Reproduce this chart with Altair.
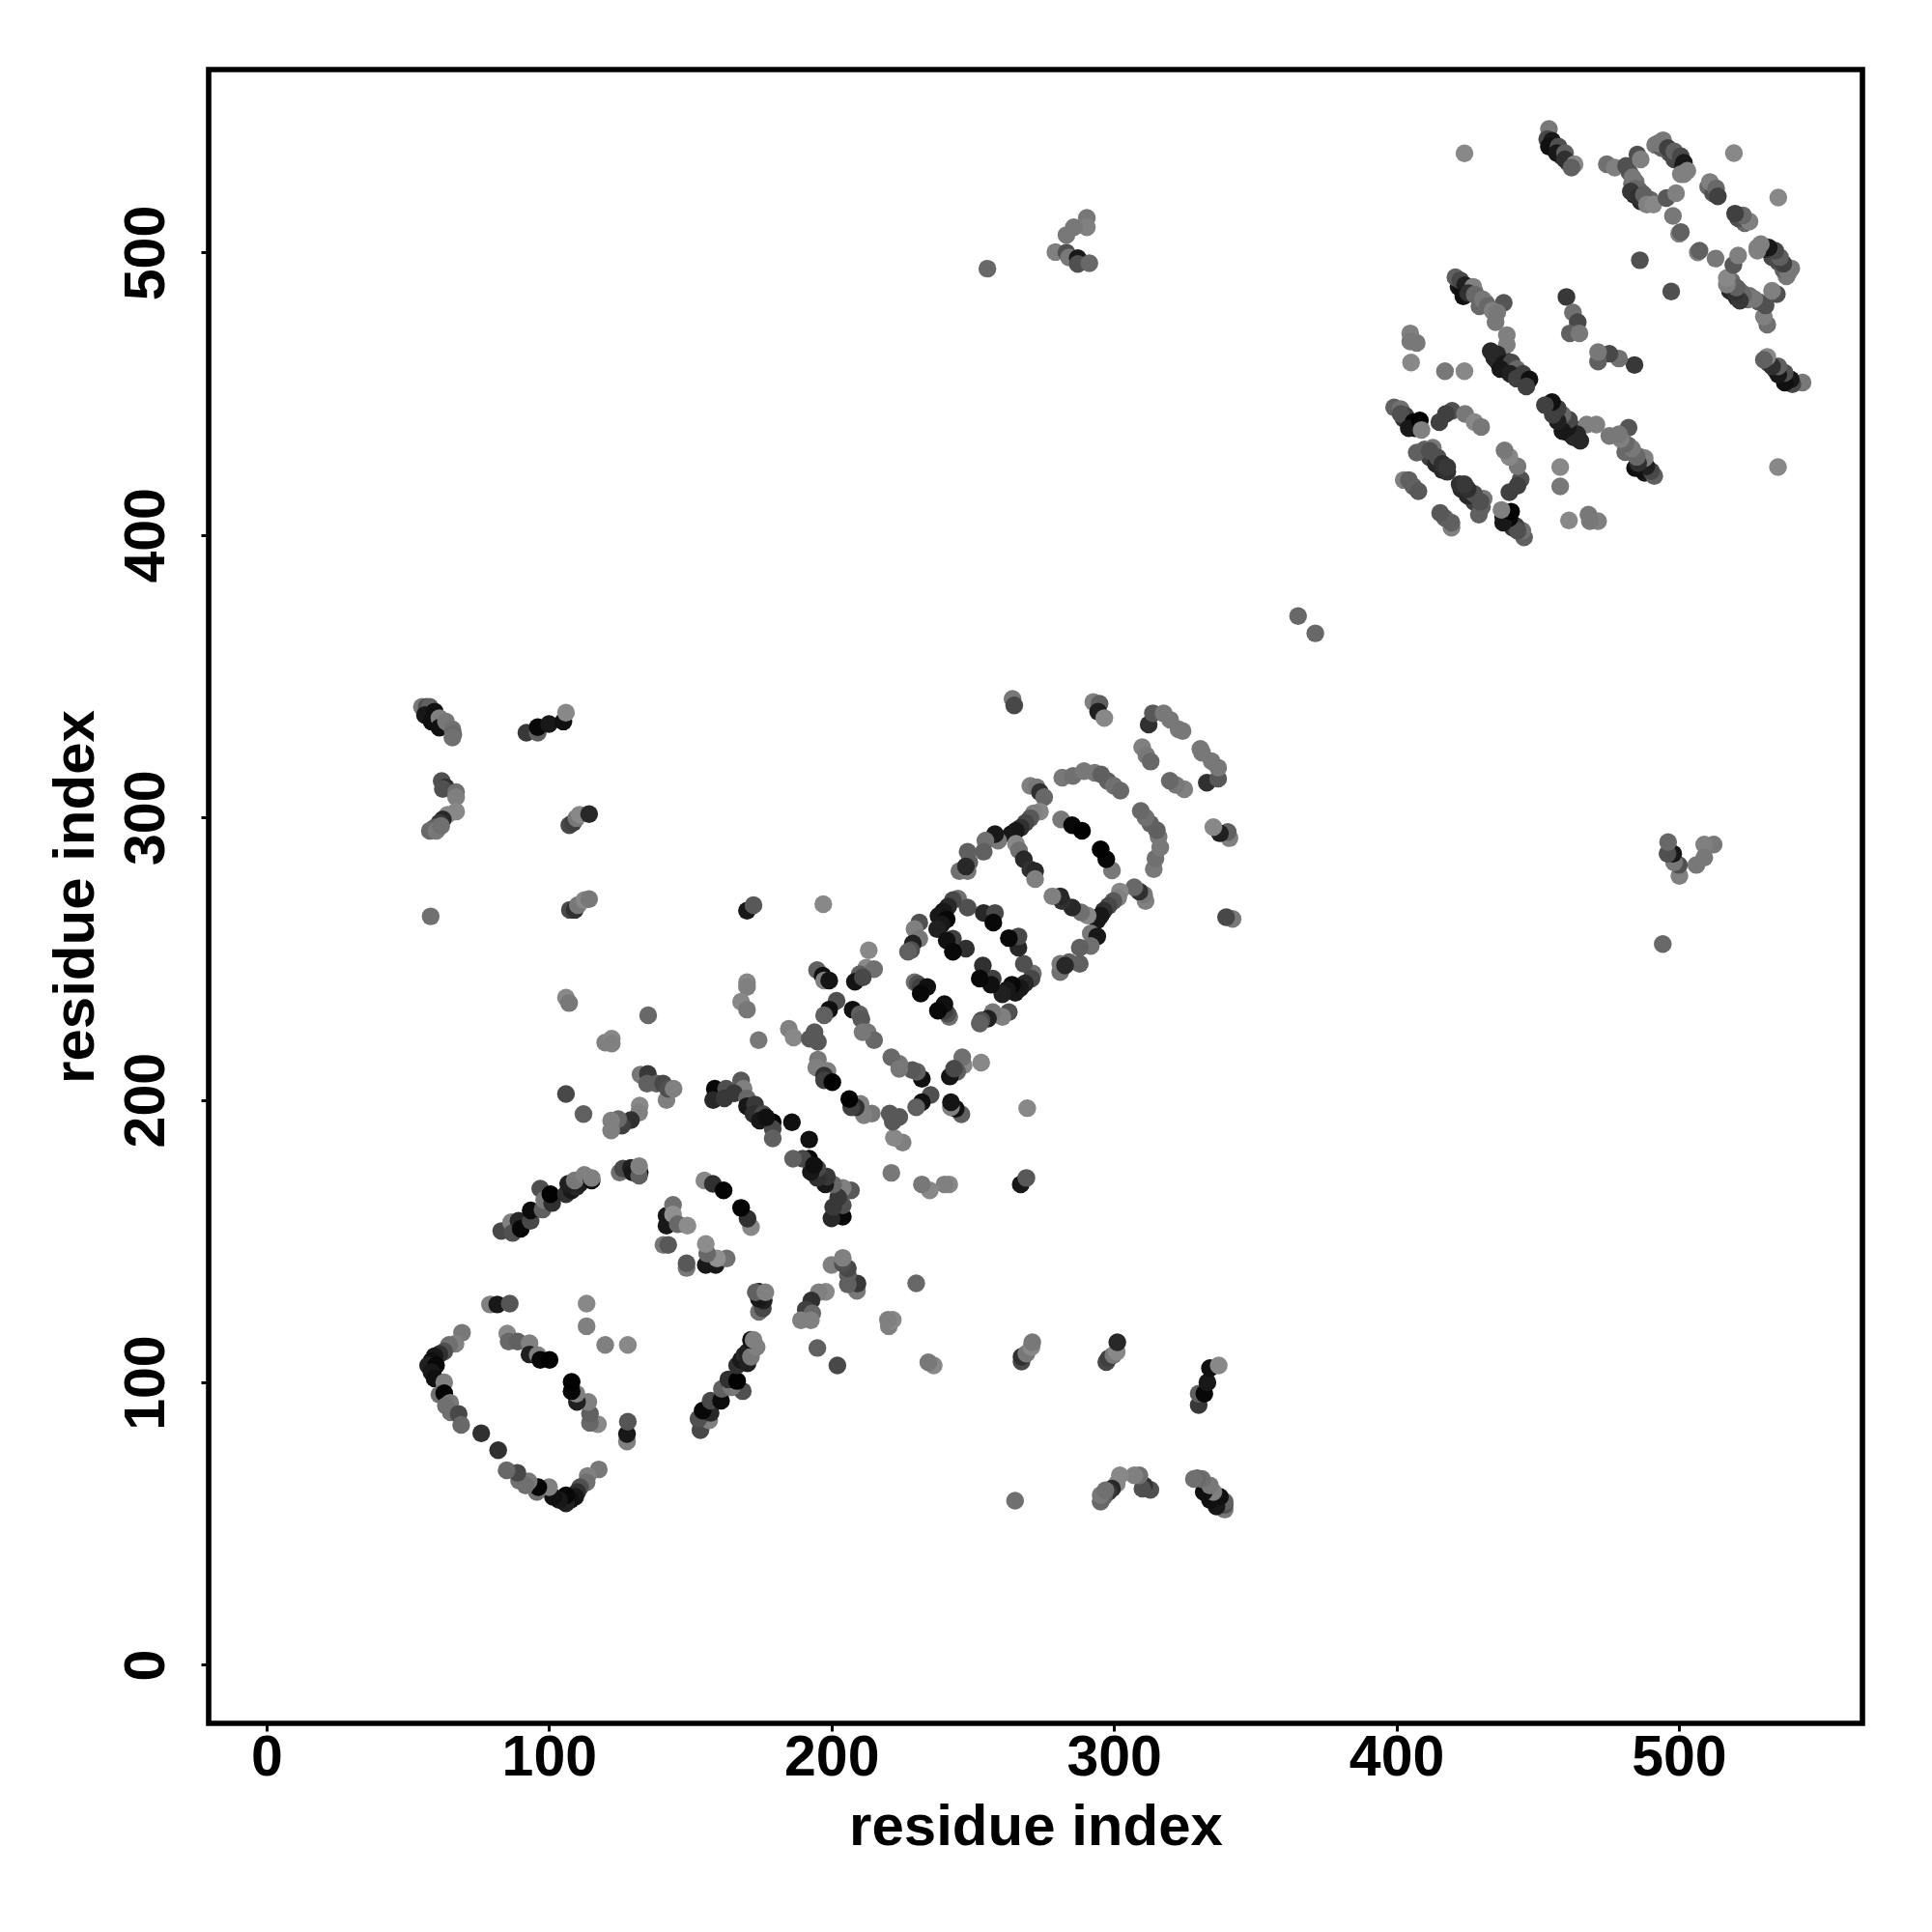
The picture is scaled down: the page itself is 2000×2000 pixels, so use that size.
import altair as alt
import pandas as pd

# contacts read from the half above the diagonal; the contact map is symmetric
x_half = [
 69.2,66.9,64.6,62.9,61.2,59.5,58.4,57.2,60,58.4,59.5,62.9,61.2,62.9,65,63.5,65.2,68,68.9,76,
 79.1,81.7,86.1,85.2,85.7,88.9,93.1,93.1,96,96.9,100.2,
 83.1,86.6,87.1,89.2,90,93.5,93.5,97.7,96.9,98.3,101.1,100.5,106,108,109.7,106.8,110.8,109.1,112.5,115.1,115.1,113.3,113.3,
 125,126.2,129,129.6,132.1,131.9,131.9,
 141.6,141.6,143.9,143.9,145.6,149,140.5,142.2,155,158,161.8,
 107.4,109.1,110.2,112.5,114.2,170.1,172.4,197.1,106,107.1,135.1,170.1,170.1,168,170.1,174.2,
 119.9,122.2,122.2,132.4,135,134.7,138.1,140.4,141.6,142.1,144.1,106,112.2,
 132.1,131.9,129,125.8,124.5,122,122,
 158.7,158.1,162.7,162.1,168,168.9,165.5,170.1,170.1,172.9,172.4,175.8,174.6,179.2,179.2,176.9,179.2,186,
 194.9,196.9,197.4,199.2,213.2,212.3,215.1,210,208.3,211.1,
 201.8,199.2,197.4,207.5,210,210.6,212.8,215.1,211,184.9,186.6,194,192.3,195.2,
 195.2,194.6,198.6,197.4,197.4,200.3,
 264.1,264.7,292.7,294.9,294.4,296.6,312.3,313.8,317.6,319.9,322.9,324.3,310,311.5,313,
 281.7,285.5,289.4,293.2,295.5,297.8,300,302.3,
 270.4,272.7,273.8,275.3,273.8,271.6,270.4,268.7,267,265.3,263.6,259,257.9,254.5,253.9,248.2,248.8,245.3,248.2,247.6,
 265.3,266.4,268.1,270.4,272.1,272.1,281.3,285.2,288.7,
 244.8,248.2,243,241.3,239.6,237.9,240.8,239,237.4,243,240.8,247.6,243,253.9,257.9,257.3,
 231.1,229.4,231.1,228.8,228.2,227.1,
 229.4,230.5,231.6,233.9,231.6,
 55,56.7,57.8,56.1,59.5,58.4,61.2,61.2,63.5,65.8,66.1,65.8,
 92,96,96,100,105.1,106,
 62,63.5,62.4,67.1,67.1,67.1,64.1,62.4,61.2,59.5,57.8,60.1,61.8,
 107.2,108.5,109.7,110.8,114.2,58.1,
 290.4,290.4,285.8,283.2,279.3,283.2,284.1,287.2,287.2,291.3,255.2,365.2,
 424.1,
 482.5,483.4,484.2,486.5,487,489.9,484.7,485.9,
 496.7,499.6,498.4,501.3,501.8,491.6,493.9,
 422,423.2,426,427.7,429.4,431.7,429.4,
 433.4,435.1,436.3,439.1,441.4,443.7,445.4,438,
 399.2,402.6,404.9,406.6,
 410,411.8,414,416.3,418,
 455.7,458.5,460.8,510.4,512.1,
 454,453.4,455.1,454,457.4,456.8,459.7,459.7,463.1,462,
 474.5,477.3,481.3,485.3,486.5,492.7,494.4,496.1,498.4,500.7,501.8,503,500.7,
 483.6,484.7,483,485.9,487.6,488.7,491,495.6,499,497.9,500.1,500.7,
 511,513.2,513.8,519.5,486.2,
 460.2,462.5,464.2,461.4,464.8,
 420.9,422.6,424.3,427.2,423.7,425.4,427.7,430.6,432.3,438,434,435.7,435.1,439.1,439.1,
 435.7,434.6,438,440.8,436.8,442.6,440.3,444.8,442.6,447.1,446,
 401.5,403.2,401.5,406,404.4,408.3,408.9,
 419.7,417.5,415.2,424.3,427.7,430,
 412.9,407.2,411.8,414.6,416.3,418,
 402.6,404.4,406,407.8,
 404.9,404.9,407.2,405.2,417.2,424.1,
]
y_half = [
 117.6,113.7,113.3,111,110,109.3,107.6,106,106,103.6,101.4,100,95.7,96.2,92.8,91.7,89.4,88.8,85,82,
 127.6,127.6,127.9,117.3,114.5,114.5,113.9,109.9,109.7,108,108,
 153.6,156.7,152.9,157.2,154.4,157.2,160.9,161.2,168.6,164.6,163.5,166.6,166.6,168,169.2,170.3,170.3,171.5,173.5,171.5,172.4,127.9,119.9,
 174.3,175.7,176,174.3,174.3,173.2,176.6,
 159,155.5,162.9,159.5,156,155.5,148.7,148.7,171.5,170.3,168,
 267.3,267.3,269,270.8,271.1,267,269,269.3,236.2,234.3,230,241.7,240,234.8,232,221.2,
 220.3,221.7,220,209,209.2,205.8,205.8,205.8,200,204,204,202.1,195,
 198,195.5,192.9,190.9,193.2,192.7,189.2,
 204,200,204,200.6,206.9,204,202.4,200.6,197.8,198.4,195,195,192.7,192.1,189.8,193.8,186.4,192.1,
 246,244,242.3,242.3,253,246.8,246.3,244.5,241.9,243.4,
 235.1,232,230,232,230.3,228.6,224,221.2,224,225.2,222.1,224,221.7,220.6,
 214.3,211.5,210.3,208.6,207,206.3,
 342,339.7,340.9,340.3,337.5,335.2,332.9,336.9,336.9,334.6,331.2,330.6,324.9,322,319.8,
 314.1,314.7,316.4,315.8,315.2,312.9,311.2,309.5,
 311.2,310.7,309,307.2,302.1,301.5,299.8,298.1,296.4,295.3,294.1,291.8,294.1,291.8,287.9,287.9,284.1,281,281,282.7,
 290.7,288.4,285.2,281.6,281,278.2,299.3,297.3,295.3,
 271.3,268.1,270.8,268.5,266.8,265.1,263.9,262.2,260.5,257.1,256.5,253.6,252.5,266.2,266.2,262.8,
 262.8,260.5,257.1,255.4,253.1,252.5,
 241.7,241.1,240,240,237.7,
 339.2,339.2,339.2,336.3,337.5,334,335.2,331.8,334,331.2,329.5,328.3,
 330,330,332,333.1,334,337.1,
 312.9,310.7,310.1,309,307.2,302.1,301,299.3,298.1,296.4,295.3,295.3,297,
 297.3,298.1,299.8,301,301.2,265,
 512.3,509,509,506.2,500.2,500,498.3,498,496,496.2,494.3,371.3,
 535.1,
 528.4,524.4,520.4,518.1,521,518.7,525,522.1,
 535.2,533.5,533,530.7,527.8,538.1,537,
 487.9,486.8,486.8,486.2,483.9,482.2,481,
 465.1,462.3,460.6,459.4,457.7,456,454.3,462.3,
 445.2,441.2,440,437.8,
 430.3,427.5,425.2,423,422.4,
 537,534.1,531.8,523.3,521,
 543.8,540.2,539.6,537.5,537.5,535.2,535.2,533,531.3,530.1,
 531.3,530.1,530.7,534.7,533,538.7,539.8,537,535.8,534.1,531.8,529,527.8,
 526.7,522.7,521.6,519.9,520.4,517,517,519.3,521,513,506.7,507.3,
 525,522.7,519.9,535.2,497.3,
 484.3,478.8,475.4,471.4,471.4,
 491.3,490.2,488.5,487.9,484.5,485.6,485.1,483.4,481.1,482.2,479.4,478.8,475.4,470.8,467.4,
 464,462.8,460.6,461.1,458.8,458.8,457.1,457.1,455.4,455.1,452.6,
 444.6,442.3,442.9,440,437.8,440.6,437.2,
 444,442.9,440,442.9,440,438.3,
 430.9,429.2,429.8,427.5,425.2,424.1,
 419.5,419.5,417.2,415.5,
 471.4,468.5,468,461.1,458,458,
]
gray_half = [
 0x78,0x80,0x70,0x50,0x30,0x18,0x10,0x20,0x08,0x18,0x10,0x80,0x70,0x05,0x78,0x70,0x70,0x48,0x68,0x30,
 0x80,0x18,0x55,0x88,0x68,0x60,0x80,0x20,0x80,0x08,0x02,
 0x48,0x80,0x50,0x28,0x08,0x48,0x0c,0x60,0x50,0x78,0x30,0x02,0x30,0x18,0x28,0x20,0x20,0x78,0x80,0x10,0x80,0x88,0x80,
 0x70,0x48,0x20,0x18,0x0c,0x60,0x80,
 0x18,0x18,0x70,0x90,0x68,0x8c,0x78,0x58,0x88,0x30,0x05,
 0x48,0x30,0x78,0x88,0x78,0x18,0x58,0x88,0x88,0x78,0x68,0x88,0x80,0x88,0x78,0x78,
 0x80,0x88,0x80,0x78,0x38,0x60,0x60,0x48,0x80,0x50,0x80,0x48,0x60,
 0x88,0x80,0x30,0x40,0x68,0x80,0x80,
 0x08,0x28,0x50,0x38,0x58,0x80,0x38,0x68,0x18,0x38,0x30,0x48,0x18,0x02,0x48,0x10,0x60,0x10,
 0x60,0x10,0x80,0x14,0x88,0x88,0x70,0x60,0x14,0x48,
 0x50,0x10,0x60,0x10,0x60,0x58,0x78,0x68,0x78,0x80,0x88,0x58,0x58,0x58,
 0x78,0x80,0x80,0x30,0x40,0x02,
 0x78,0x48,0x80,0x60,0x20,0x88,0x30,0x58,0x78,0x78,0x78,0x78,0x80,0x78,0x68,
 0x78,0x70,0x78,0x78,0x60,0x60,0x70,0x68,
 0x80,0x78,0x30,0x68,0x88,0x80,0x58,0x48,0x30,0x18,0x18,0x78,0x18,0x70,0x60,0x60,0x60,0x70,0x78,0x28,
 0x88,0x70,0x28,0x30,0x28,0x80,0x78,0x08,0x02,
 0x70,0x50,0x48,0x28,0x18,0x18,0x08,0x18,0x20,0x40,0x10,0x30,0x08,0x28,0x48,0x08,
 0x50,0x80,0x78,0x20,0x50,0x60,
 0x70,0x50,0x40,0x10,0x08,
 0x78,0x50,0x60,0x18,0x10,0x10,0x80,0x10,0x78,0x70,0x68,0x70,
 0x38,0x60,0x08,0x18,0x10,0x88,
 0x50,0x30,0x50,0x70,0x80,0x88,0x88,0x28,0x38,0x60,0x68,0x78,0x70,
 0x48,0x40,0x78,0x88,0x28,0x70,
 0x78,0x80,0x78,0x78,0x80,0x50,0x78,0x18,0x50,0x68,0x68,0x68,
 0x88,
 0x58,0x70,0x28,0x28,0x70,0x68,0x70,0x68,
 0x50,0x58,0x48,0x28,0x80,0x78,0x60,
 0x18,0x10,0x40,0x70,0x78,0x70,0x68,
 0x28,0x10,0x18,0x10,0x50,0x28,0x28,0x40,
 0x60,0x30,0x10,0x10,
 0x60,0x40,0x28,0x28,0x30,
 0x40,0x40,0x40,0x68,0x50,
 0x78,0x48,0x18,0x10,0x50,0x18,0x60,0x30,0x88,0x60,
 0x70,0x80,0x50,0x50,0x80,0x78,0x78,0x40,0x60,0x48,0x18,0x80,0x80,
 0x78,0x68,0x38,0x30,0x60,0x80,0x88,0x58,0x80,0x78,0x80,0x60,
 0x80,0x68,0x40,0x88,0x50,
 0x38,0x70,0x48,0x60,0x78,
 0x60,0x48,0x20,0x80,0x10,0x30,0x68,0x78,0x68,0x55,0x80,0x78,0x78,0x80,0x80,
 0x28,0x28,0x18,0x48,0x18,0x68,0x20,0x40,0x40,0x10,0x40,
 0x70,0x40,0x50,0x08,0x18,0x02,0x80,
 0x50,0x40,0x40,0x78,0x88,0x78,
 0x78,0x60,0x50,0x50,0x30,0x38,
 0x80,0x60,0x60,0x58,
 0x80,0x78,0x78,0x88,0x78,0x88,
]
x_ticks = [0, 100, 200, 300, 400, 500]
y_ticks = [0, 100, 200, 300, 400, 500]
axis_title = "residue index"

df = pd.DataFrame({
    "i": x_half + y_half,
    "j": y_half + x_half,
    "shade": [f"#{g:02x}{g:02x}{g:02x}" for g in gray_half + gray_half],
})

font = "Liberation Sans"
common = dict(
    domain=False, grid=False, tickColor="black", tickWidth=3, tickSize=8,
    labelFont=font, labelFontWeight="bold", labelFontSize=59, labelColor="black",
    titleFont=font, titleFontWeight="bold", titleFontSize=60, titleColor="black",
    labelOverlap=False, labelFlush=False,
)

chart = (
    alt.Chart(df)
    .mark_circle(size=340, opacity=1)
    .encode(
        x=alt.X("i:Q", scale=alt.Scale(domain=[-20.5, 565], nice=False, zero=False),
                axis=alt.Axis(values=x_ticks, title=axis_title, labelPadding=-2,
                              titleX=856, titleY=125, titleBaseline="alphabetic", **common)),
        y=alt.Y("j:Q", scale=alt.Scale(domain=[-20.7, 564.8], nice=False, zero=False),
                axis=alt.Axis(values=y_ticks, title=axis_title, labelAngle=270, labelAlign="center",
                              labelBaseline="alphabetic", labelPadding=39,
                              titleX=-120, titleY=856, titleAngle=270, titleAlign="center",
                              titleBaseline="alphabetic", **common)),
        color=alt.Color("shade:N", scale=None),
    )
    .properties(
        width=1712, height=1712,
        padding={"left": 208, "top": 64, "right": 60, "bottom": 180},
        autosize=alt.AutoSizeParams(type="none"),
        background="white",
    )
    .configure_view(stroke="black", strokeWidth=5.6)
)

assert len(x_half) == len(y_half) == len(gray_half), (len(x_half), len(y_half), len(gray_half))
chart.save("out.html", embed_options={"renderer": "svg", "actions": False})
